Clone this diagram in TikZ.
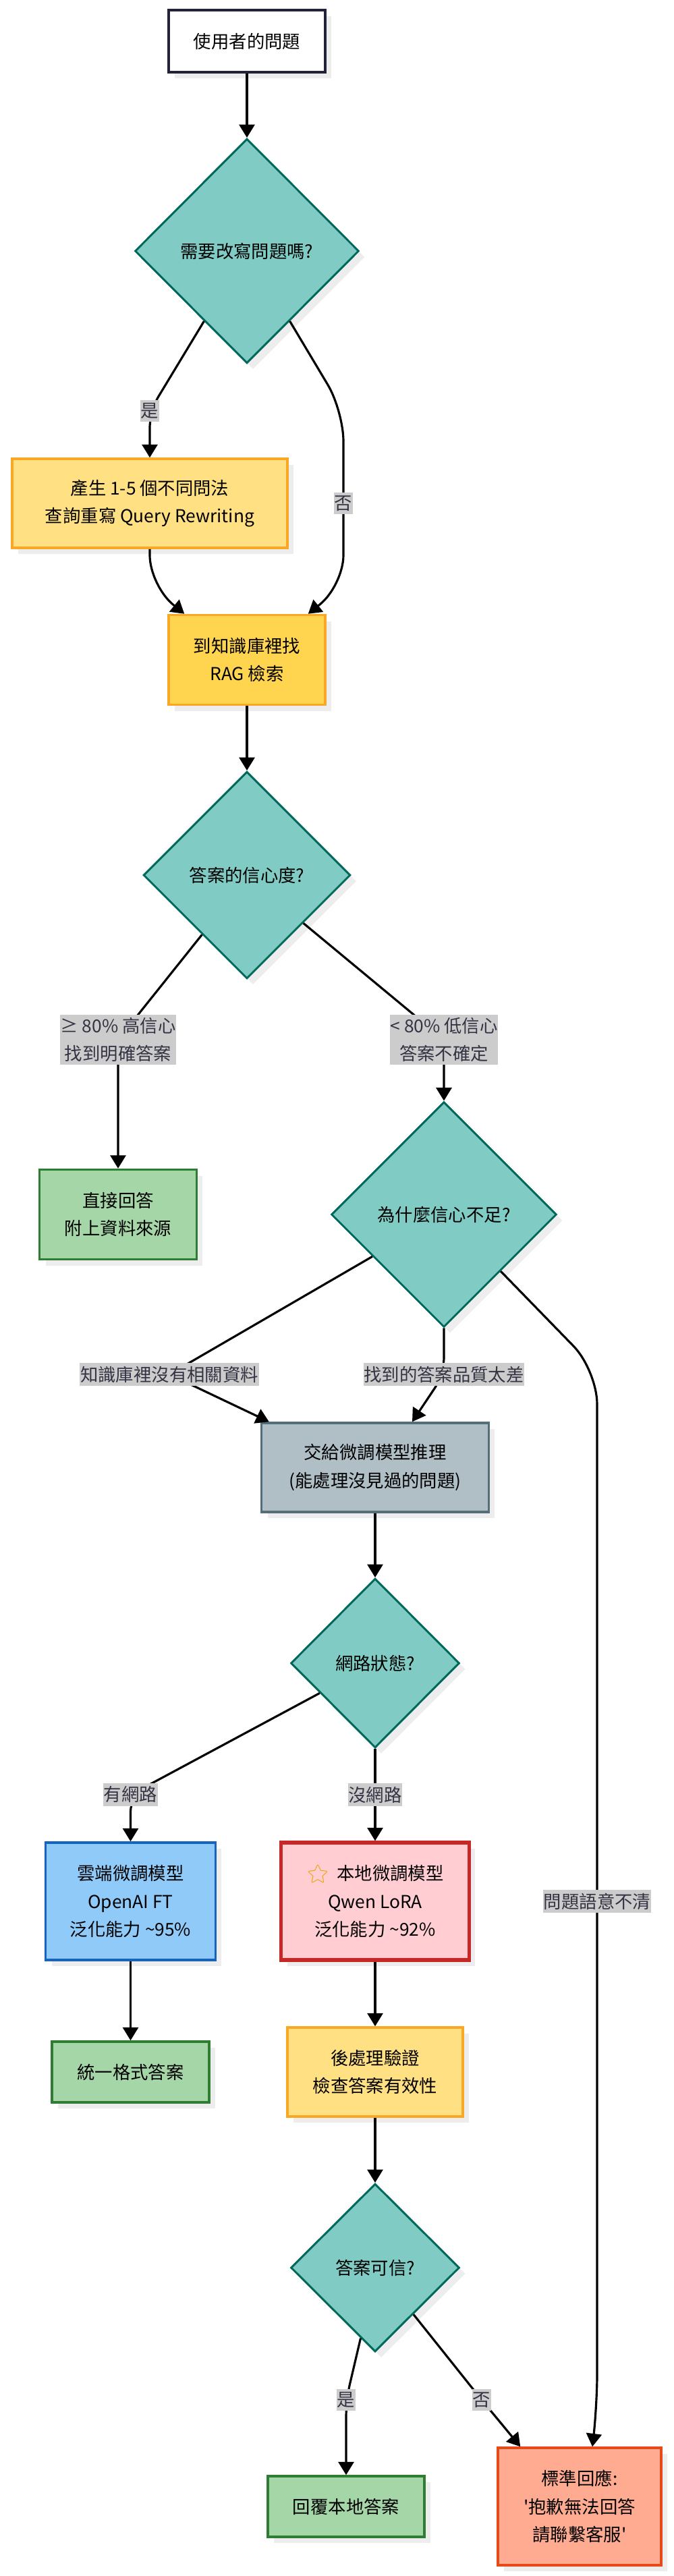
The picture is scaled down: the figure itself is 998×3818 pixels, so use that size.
\documentclass[tikz,border=0pt]{standalone}
\usepackage{fontspec}
\setmainfont{Noto Sans CJK TC}
\newfontfamily\emojifont{Noto Emoji}
\usetikzlibrary{shapes.geometric,arrows.meta,calc,shadows}
\definecolor{tealfill}{HTML}{80CBC4}
\definecolor{tealline}{HTML}{00695C}
\definecolor{lightyellow}{HTML}{FFE082}
\definecolor{yellowfill}{HTML}{FFD54F}
\definecolor{yellowline}{HTML}{F9A825}
\definecolor{greenfill}{HTML}{A5D6A7}
\definecolor{greenline}{HTML}{2E7D32}
\definecolor{grayfill}{HTML}{B0BEC5}
\definecolor{grayline}{HTML}{546E7A}
\definecolor{bluefill}{HTML}{90CAF9}
\definecolor{blueline}{HTML}{1565C0}
\definecolor{redfill}{HTML}{FFCDD2}
\definecolor{redline}{HTML}{C62828}
\definecolor{orangefill}{HTML}{FFAB91}
\definecolor{orangeline}{HTML}{E64A19}
\definecolor{startline}{HTML}{22223A}
\definecolor{lblfill}{HTML}{CCCCCC}
\definecolor{lbltext}{HTML}{333344}
\definecolor{starcol}{HTML}{E8A400}

\begin{document}
\begin{tikzpicture}[x=0.02cm,y=-0.02cm,font=\fontsize{15}{23.5}\selectfont,
  box/.style={rectangle,draw,line width=2pt,align=center,inner sep=0pt,
    drop shadow={shadow xshift=0.18cm,shadow yshift=-0.18cm,fill=black!7,opacity=1}},
  decision/.style={diamond,aspect=1,draw=tealline,fill=tealfill,line width=1.7pt,inner sep=0pt,
    drop shadow={shadow xshift=0.18cm,shadow yshift=-0.18cm,fill=black!7,opacity=1}},
  lbl/.style={fill=lblfill,text=lbltext,inner xsep=0.5pt,inner ysep=2.5pt,align=center},
  arr/.style={-{Triangle[length=11pt,width=13pt]},line width=1.8pt}]
\useasboundingbox (0,0) rectangle (998,3818);

\node[box,draw=startline,fill=white,minimum width=4.64cm,minimum height=1.84cm] (ask) at (366,61) {使用者的問題};
\node[decision,minimum width=6.64cm,minimum height=6.66cm] (rewrite) at (366,372) {需要改寫問題嗎?};
\node[box,draw=yellowline,fill=lightyellow,minimum width=8.16cm,minimum height=2.64cm] (gen) at (222,746) {產生 1-5 個不同問法\\查詢重寫 Query Rewriting};
\node[box,draw=yellowline,fill=yellowfill,minimum width=4.64cm,minimum height=2.66cm] (rag) at (366,978) {到知識庫裡找\\RAG 檢索};
\node[decision,minimum width=6.14cm,minimum height=6.14cm] (conf) at (366,1297) {答案的信心度?};
\node[box,draw=greenline,fill=greenfill,minimum width=4.66cm,minimum height=2.66cm] (direct) at (175,1800) {直接回答\\附上資料來源};
\node[decision,minimum width=6.68cm,minimum height=6.68cm] (why) at (658,1800) {為什麼信心不足?};
\node[box,draw=grayline,fill=grayfill,minimum width=6.74cm,minimum height=2.64cm] (ft) at (556,2175) {交給微調模型推理\\(能處理沒見過的問題)};
\node[decision,minimum width=5cm,minimum height=5.02cm] (net) at (556,2465) {網路狀態?};
\node[box,draw=blueline,fill=bluefill,minimum width=5.04cm,minimum height=3.48cm] (cloud) at (193.5,2818) {雲端微調模型\\OpenAI FT\\泛化能力 \textasciitilde95\%};
\node[box,draw=redline,fill=redfill,line width=3pt,minimum width=5.58cm,minimum height=3.48cm] (local) at (556,2818) {\textcolor{starcol}{\emojifont ⭐}\ \ 本地微調模型\\Qwen LoRA\\泛化能力 \textasciitilde92\%};
\node[box,draw=greenline,fill=greenfill,minimum width=4.66cm,minimum height=1.8cm] (unify) at (193.5,3071) {統一格式答案};
\node[box,draw=yellowline,fill=lightyellow,minimum width=5.2cm,minimum height=2.64cm] (post) at (556,3071) {後處理驗證\\檢查答案有效性};
\node[decision,minimum width=5cm,minimum height=4.98cm] (trust) at (556,3361) {答案可信?};
\node[box,draw=greenline,fill=greenfill,minimum width=4.64cm,minimum height=1.8cm] (reply) at (513,3715) {回覆本地答案};
\node[box,draw=orangeline,fill=orangefill,minimum width=4.84cm,minimum height=3.48cm] (sorry) at (859,3715) {標準回應:\\\textquotesingle 抱歉無法回答\\請聯繫客服\textquotesingle};

\coordinate (yes1) at (222,609);
\coordinate (no1) at (509,746);
\coordinate (hi) at (175,1541);
\coordinate (lo) at (658,1541);
\coordinate (nodata) at (251,2037);
\coordinate (poor) at (658,2037);
\coordinate (unclear) at (885,2818);
\coordinate (wan) at (193.5,2660);
\coordinate (nowan) at (556,2660);
\coordinate (yes2) at (513,3557);
\coordinate (no2) at (714,3557);

\draw[arr] (ask) -- (rewrite);
\draw[arr,rounded corners=0.5cm] ($(rewrite.west)!0.62!(rewrite.south)$) -- (yes1) -- (gen);
\draw[arr,rounded corners=0.9cm] ($(rewrite.south)!0.38!(rewrite.east)$) -- (509,609) -- (no1) -- (509,868) -- ($(rag.north east)+(-27,0)$);
\draw[arr,rounded corners=0.9cm] (gen.south) -- (222,868) -- ($(rag.north west)+(25,0)$);
\draw[arr] (rag) -- (conf);
\draw[arr,rounded corners=0.5cm] ($(conf.west)!0.57!(conf.south)$) -- (hi) -- (direct);
\draw[arr,rounded corners=0.5cm] ($(conf.east)!0.46!(conf.south)$) -- (lo) -- (why);
\draw[arr,rounded corners=0.5cm] ($(why.west)!0.37!(why.south)$) -- (nodata) -- ($(ft.north west)+(13,0)$);
\draw[arr,rounded corners=0.5cm] (why.south) -- (poor) -- ($(ft.north)+(55,0)$);
\draw[arr,rounded corners=1cm] (why.south east) -- (885,2031) -- (unclear) -- (885,3570) -- ($(sorry.north)+(19,0)$);
\draw[arr] (ft) -- (net);
\draw[arr,rounded corners=0.5cm] ($(net.west)!0.35!(net.south)$) -- (wan) -- (cloud);
\draw[arr] (net) -- (nowan) -- (local);
\draw[arr] (cloud) -- (unify);
\draw[arr] (local) -- (post);
\draw[arr] (post) -- (trust);
\draw[arr,rounded corners=0.5cm] ($(trust.south)!0.17!(trust.west)$) -- (yes2) -- (reply);
\draw[arr,rounded corners=0.5cm] ($(trust.south)!0.45!(trust.east)$) -- (no2) -- ($(sorry.north west)+(35,0)$);

\node[lbl] at (yes1) {是};
\node[lbl] at (no1) {否};
\node[lbl] at (hi) {≥ 80\% 高信心\\找到明確答案};
\node[lbl] at (lo) {< 80\% 低信心\\答案不確定};
\node[lbl] at (nodata) {知識庫裡沒有相關資料};
\node[lbl] at (poor) {找到的答案品質太差};
\node[lbl] at (unclear) {問題語意不清};
\node[lbl] at (wan) {有網路};
\node[lbl] at (nowan) {沒網路};
\node[lbl] at (yes2) {是};
\node[lbl] at (no2) {否};
\end{tikzpicture}
\end{document}
